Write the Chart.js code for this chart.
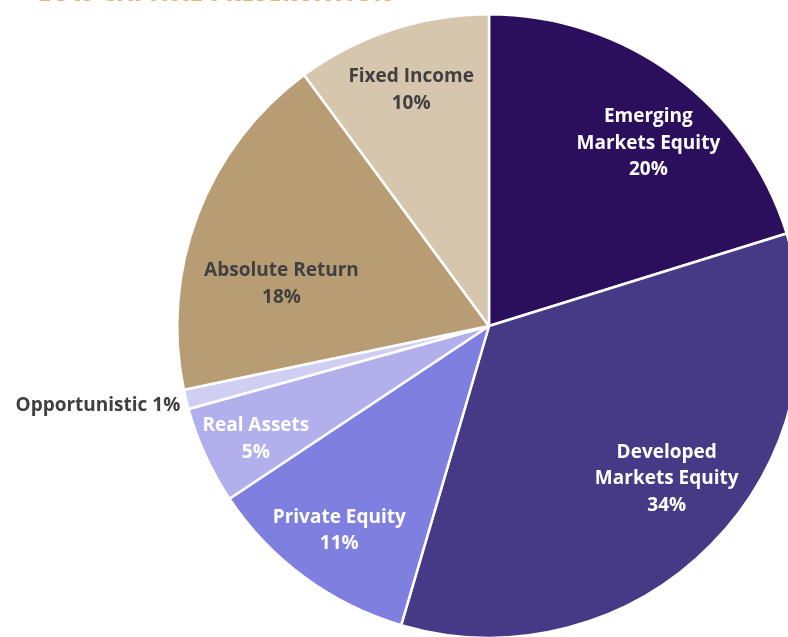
<!doctype html>
<html lang="en">
  <head>
    <meta charset="utf-8">
    <title>Low Capital Preservation</title>
    <style>
      * {
        margin: 0;
        padding: 0;
        font-family: "Open Sans", sans-serif;
      }
      body {
        width: 788px;
        height: 637px;
        overflow: hidden;
        background: #ffffff;
        position: relative;
      }
      .title {
        position: absolute;
        left: 38px;
        top: -23px;
        font-size: 22px;
        font-weight: 800;
        color: #e2b677;
        letter-spacing: 1.2px;
        z-index: 2;
      }
      .chartBox {
        position: absolute;
        left: 0;
        top: 0;
        width: 820px;
        height: 660px;
      }
    </style>
  </head>
  <body>
    <div class="title">LOW CAPITAL PRESERVATION</div>
    <div class="chartBox">
      <canvas id="pieChart"></canvas>
    </div>

    <script src="https://cdn.jsdelivr.net/npm/chart.js"></script>
    <script>
    // setup
    const assetClasses = ['Emerging Markets Equity', 'Developed Markets Equity', 'Private Equity',
      'Real Assets', 'Opportunistic', 'Absolute Return', 'Fixed Income'];
    const labelLines = [['Emerging', 'Markets Equity'], ['Developed', 'Markets Equity'], ['Private Equity'],
      ['Real Assets'], ['Opportunistic'], ['Absolute Return'], ['Fixed Income']];
    const allocations = [20, 34, 11, 5, 1, 18, 10];

    const sliceColors = ['#2b0f5c', '#463a87', '#7f7fe0', '#b2b0ec', '#d0cef3', '#b89c74', '#d6c6ae'];
    const textColors = ['#ffffff', '#ffffff', '#ffffff', '#ffffff', '#404040', '#404040', '#404040'];
    // where to put each label: fraction of radius, angle nudge (rad), or outside
    const labelPlace = [
      {r: 0.78, da: 0.08}, {r: 0.75, da: -0.07}, {r: 0.81, da: 0},
      {r: 0.83, da: -0.02}, {outside: true}, {r: 0.68, da: -0.16}, {r: 0.80, da: 0}
    ];

    const sliceLabels = {
      id: 'sliceLabels',
      afterDatasetsDraw(chart) {
        const ctx = chart.ctx;
        const meta = chart.getDatasetMeta(0);
        ctx.save();
        ctx.font = 'bold 19px "Open Sans"';
        ctx.textAlign = 'center';
        ctx.textBaseline = 'middle';
        meta.data.forEach((arc, i) => {
          const p = arc.getProps(['x', 'y', 'startAngle', 'endAngle', 'outerRadius']);
          const pct = allocations[i] + '%';
          const place = labelPlace[i];
          ctx.fillStyle = textColors[i];
          if (place.outside) {
            const mid = (p.startAngle + p.endAngle) / 2;
            const x = p.x + Math.cos(mid) * (p.outerRadius + 8);
            const y = p.y + Math.sin(mid) * (p.outerRadius + 8);
            ctx.textAlign = 'right';
            ctx.fillText(labelLines[i][0] + ' ' + pct, x + 2, y + 4);
            ctx.textAlign = 'center';
            return;
          }
          const mid = (p.startAngle + p.endAngle) / 2 + place.da;
          const cx = p.x + Math.cos(mid) * p.outerRadius * place.r;
          const cy = p.y + Math.sin(mid) * p.outerRadius * place.r;
          const lines = labelLines[i].concat([pct]);
          const lh = 26.5;
          lines.forEach((t, k) => {
            ctx.fillText(t, cx, cy + 1 + (k - (lines.length - 1) / 2) * lh);
          });
        });
        ctx.restore();
      }
    };

    const data = {
      labels: assetClasses,
      datasets: [{
        data: allocations,
        backgroundColor: sliceColors,
        borderColor: '#ffffff',
        borderWidth: 2.5
      }]
    };

    // config
    const config = {
      type: 'pie',
      data,
      options: {
        responsive: true,
        maintainAspectRatio: false,
        animation: false,
        layout: {
          padding: {left: 176, top: 13, right: 18, bottom: 21}
        },
        plugins: {
          legend: { display: false },
          tooltip: { enabled: false }
        }
      },
      plugins: [sliceLabels]
    };

    const myChart = new Chart(
      document.getElementById('pieChart'),
      config
    );
    </script>
  </body>
</html>
